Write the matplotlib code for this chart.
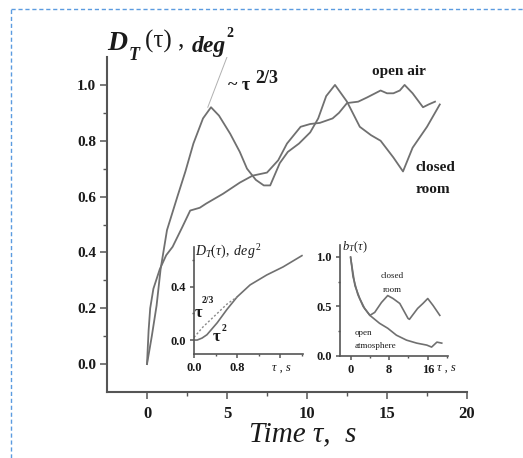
import matplotlib
matplotlib.use('Agg')
import matplotlib.pyplot as plt
from matplotlib.lines import Line2D
from matplotlib.ticker import FixedLocator

plt.rcParams['font.family'] = ['Liberation Serif', 'DejaVu Serif']
plt.rcParams['mathtext.fontset'] = 'custom'
plt.rcParams['mathtext.rm'] = 'Liberation Serif'
plt.rcParams['mathtext.it'] = 'Liberation Serif:italic'
plt.rcParams['mathtext.bf'] = 'Liberation Serif:bold'

# main panel: structure function, closed room and open air
closed_t = [0, 0.3, 0.6, 0.85, 1.25, 1.9, 2.4, 2.9, 3.5, 4.0, 4.5, 5.2, 5.8, 6.25, 6.8, 7.3,
            7.7, 8.3, 8.8, 9.5, 10.2, 10.7, 11.2, 11.75, 12.5, 13.3, 14.0, 14.6, 15.4, 16.0,
            16.6, 17.5, 18.3]
closed_v = [0, 0.10, 0.21, 0.34, 0.48, 0.60, 0.69, 0.79, 0.88, 0.92, 0.89, 0.825, 0.76, 0.70,
            0.66, 0.64, 0.64, 0.72, 0.76, 0.79, 0.83, 0.88, 0.96, 1.0, 0.94, 0.85, 0.82, 0.80,
            0.74, 0.69, 0.775, 0.85, 0.93]
open_t = [0, 0.1, 0.2, 0.4, 0.8, 1.2, 1.6, 2.2, 2.7, 3.3, 3.7, 4.75, 5.8, 6.6, 7.5, 8.2, 8.75,
          9.6, 10.2, 10.8, 11.6, 12.0, 12.5, 13.2, 13.75, 14.6, 15.0, 15.4, 15.8, 16.1, 16.6,
          17.25, 17.6, 18.0]
open_v = [0, 0.12, 0.20, 0.27, 0.34, 0.39, 0.42, 0.49, 0.55, 0.56, 0.575, 0.61, 0.65, 0.675,
          0.686, 0.73, 0.79, 0.85, 0.86, 0.864, 0.88, 0.90, 0.935, 0.94, 0.955, 0.98, 0.97,
          0.97, 0.98, 1.0, 0.97, 0.92, 0.93, 0.94]
fit_t = [3.8, 4.4, 5.0]
fit_v = [0.92, 1.01, 1.10]

# inset 1: short lags
in1_t = [0, 0.06, 0.15, 0.24, 0.43, 0.61, 0.8, 1.04, 1.35, 1.65, 2.0]
in1_v = [0.0, 0.0, 0.015, 0.04, 0.13, 0.23, 0.325, 0.415, 0.49, 0.55, 0.635]
in1_fit_t = [0, 0.17, 0.43, 0.61, 0.8]
in1_fit_v = [0.02, 0.10, 0.20, 0.27, 0.325]

# inset 2: correlation function
in2_closed_t = [0, 0.9, 1.9, 2.9, 4.0, 5.0, 6.4, 7.7, 8.8, 10.2, 11.9, 12.2, 13.9, 15.0, 16.0,
                17.1, 18.5]
in2_closed_v = [0.99, 0.71, 0.58, 0.48, 0.41, 0.44, 0.54, 0.61, 0.58, 0.53, 0.38, 0.37, 0.48,
                0.53, 0.58, 0.51, 0.41]
in2_open_t = [0, 0.5, 1.5, 2.6, 4.0, 6.0, 7.7, 9.5, 11.6, 13.7, 15.8, 16.8, 17.9, 18.9]
in2_open_v = [1.0, 0.80, 0.62, 0.50, 0.41, 0.33, 0.28, 0.21, 0.16, 0.13, 0.11, 0.09, 0.14, 0.13]

W, H = 523, 458
CURVE = '#707070'
AXC = '#555555'
TXT = '#1a1a1a'


def px(x, y):
    return x / W, 1 - y / H


def style_axes(ax, lw=1.5, size=11, length=4):
    for s in ['top', 'right']:
        ax.spines[s].set_visible(False)
    for s in ['left', 'bottom']:
        ax.spines[s].set_color(AXC)
        ax.spines[s].set_linewidth(lw)
    ax.tick_params(which='major', direction='out', length=length, width=1.1, color=AXC,
                   labelsize=size, labelcolor=TXT, pad=3)
    ax.tick_params(which='minor', direction='out', length=length * 0.6, width=1.0, color=AXC)
    for lab in ax.get_xticklabels() + ax.get_yticklabels():
        lab.set_fontweight('bold')
    ax.patch.set_alpha(0)


fig = plt.figure(figsize=(W / 100, H / 100), dpi=100)

ax = fig.add_axes([107 / W, 1 - 392 / H, (467 - 107) / W, (392 - 57) / H])
ax.plot(fit_t, fit_v, color='#b0b0b0', lw=0.7)
ax.plot(closed_t, closed_v, color=CURVE, lw=1.3)
ax.plot(open_t, open_v, color=CURVE, lw=1.3)
ax.set_xlim(-2.5, 20)
ax.set_ylim(-0.1, 1.1)
ax.xaxis.set_major_locator(FixedLocator([0, 5, 10, 15, 20]))
ax.xaxis.set_minor_locator(FixedLocator([2.5, 7.5, 12.5, 17.5]))
ax.yaxis.set_major_locator(FixedLocator([0, 0.2, 0.4, 0.6, 0.8, 1.0]))
ax.yaxis.set_minor_locator(FixedLocator([0.1, 0.3, 0.5, 0.7, 0.9]))
ax.set_yticklabels(['0.0', '0.2', '0.4', '0.6', '0.8', '1.0'])
style_axes(ax, size=11, length=5)
ax.tick_params(axis='x', which='major', pad=5, labelsize=12)

# title pieces
fig.text(*px(107, 50), 'D', fontsize=20, fontweight='bold', style='italic', color=TXT)
fig.text(*px(129, 60), 'T', fontsize=13, fontweight='bold', style='italic', color=TXT)
fig.text(*px(145, 48), '(τ) ,', fontsize=18, color=TXT)
fig.text(*px(192, 52), 'deg', fontsize=17, fontweight='bold', style='italic', color=TXT)
fig.text(*px(226, 37), '2', fontsize=10, fontweight='bold', color=TXT)

fig.text(*px(228, 90), '~ τ', fontsize=13, fontweight='bold', color=TXT)
fig.text(*px(255, 83), '2/3', fontsize=13, fontweight='bold', color=TXT)
fig.text(*px(399, 75), 'open air', fontsize=11, fontweight='bold', color=TXT, ha='center')
fig.text(*px(416, 171), 'closed', fontsize=11, fontweight='bold', color=TXT)
fig.text(*px(416, 193), 'room', fontsize=11, fontweight='bold', color=TXT)
fig.text(*px(303, 441), 'Time τ,  s', fontsize=21, style='italic', color=TXT, ha='center')

# inset 1
a1 = fig.add_axes([194 / W, 1 - 354 / H, (303 - 194) / W, (354 - 247) / H])
a1.plot(in1_t, in1_v, color=CURVE, lw=1.2)
a1.plot(in1_fit_t, in1_fit_v, color='#8a8a8a', lw=1.0, ls=(0, (1.5, 1.5)))
a1.set_xlim(0, 2.02)
a1.set_ylim(-0.105, 0.7)
a1.xaxis.set_major_locator(FixedLocator([0, 0.8, 1.6]))
a1.xaxis.set_minor_locator(FixedLocator([0.4, 1.2, 2.0]))
a1.set_xticklabels(['0.0', '0.8', ''])
a1.yaxis.set_major_locator(FixedLocator([0, 0.4]))
a1.yaxis.set_minor_locator(FixedLocator([0.2, 0.6]))
a1.set_yticklabels(['0.0', '0.4'])
style_axes(a1, lw=1.2, size=9, length=3)
fig.text(*px(281, 371), 'τ , s', fontsize=9, style='italic', color=TXT, ha='center')
fig.text(*px(195, 256), r'$D_T(\tau),\ deg^{\,2}$', fontsize=10, color=TXT)
fig.text(*px(195, 317), 'τ', fontsize=12, fontweight='bold', color=TXT)
fig.text(*px(202, 303), '2/3', fontsize=7, fontweight='bold', color=TXT)
fig.text(*px(213, 341), 'τ', fontsize=12, fontweight='bold', color=TXT)
fig.text(*px(222, 331), '2', fontsize=7, fontweight='bold', color=TXT)

# inset 2
a2 = fig.add_axes([340 / W, 1 - 356 / H, (448 - 340) / W, (356 - 245) / H])
a2.plot(in2_closed_t, in2_closed_v, color=CURVE, lw=1.2)
a2.plot(in2_open_t, in2_open_v, color=CURVE, lw=1.2)
a2.set_xlim(-2.2, 20.2)
a2.set_ylim(0, 1.12)
a2.xaxis.set_major_locator(FixedLocator([0, 8, 16]))
a2.xaxis.set_minor_locator(FixedLocator([4, 12, 20]))
a2.yaxis.set_major_locator(FixedLocator([0, 0.5, 1.0]))
a2.yaxis.set_minor_locator(FixedLocator([0.25, 0.75]))
a2.set_yticklabels(['0.0', '0.5', '1.0'])
style_axes(a2, lw=1.2, size=9, length=3)
fig.text(*px(437, 371), 'τ , s', fontsize=9, style='italic', color=TXT)
fig.text(*px(342, 250), r'$b_T(\tau)$', fontsize=9, color=TXT)
fig.text(*px(392, 278), 'closed', fontsize=6.5, color=TXT, ha='center')
fig.text(*px(392, 292), 'room', fontsize=6.5, color=TXT, ha='center')
fig.text(*px(355, 335), 'open', fontsize=6.5, color=TXT)
fig.text(*px(355, 348), 'atmosphere', fontsize=6.5, color=TXT)

# dashed selection border
fig.add_artist(Line2D([11 / W, 1], [1 - 9 / H, 1 - 9 / H], transform=fig.transFigure,
                      color='#5b9be0', lw=1.0, ls=(0, (3, 2))))
fig.add_artist(Line2D([11 / W, 11 / W], [0, 1 - 9 / H], transform=fig.transFigure,
                      color='#5b9be0', lw=1.0, ls=(0, (3, 2))))

fig.savefig('out.png', dpi=100)
